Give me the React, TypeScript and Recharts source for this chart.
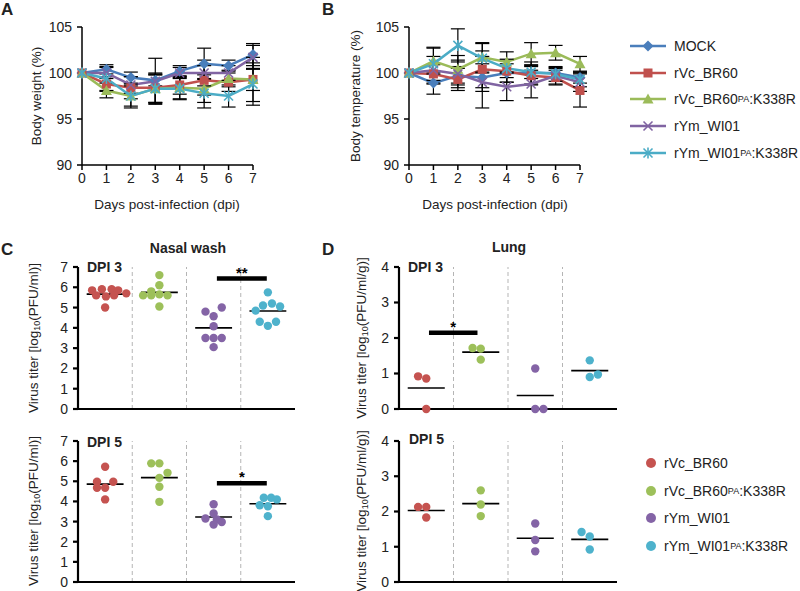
import React from "react";
import {
  LineChart,
  Line,
  XAxis,
  YAxis,
  ErrorBar,
  ScatterChart,
  Scatter,
  ReferenceLine,
} from "recharts";

const FONT = '"Liberation Sans", Arial, sans-serif';

const days = [0, 1, 2, 3, 4, 5, 6, 7];

// panel A: body weight (% of day 0), mean and SD
const weightMock = [100, 100.4, 99.5, 99.2, 100.2, 101, 100.8, 102];
const weightBR60 = [100, 98.8, 98.4, 98.4, 98.7, 99.2, 99, 99.3];
const weightBR60PA = [100, 98.1, 97.5, 98.3, 98.4, 98.3, 99.4, 99.3];
const weightWI01 = [100, 100, 98.7, 99.1, 100, 100, 100, 101.7];
const weightWI01PA = [100, 99.4, 97.5, 98.3, 98.3, 97.8, 97.5, 98.8];
const weightMockSd = [0, 0.5, 0.6, 0.6, 0.6, 1.7, 0.6, 1.2];
const weightBR60Sd = [0, 0.8, 1.2, 1.6, 1.0, 1.6, 1.0, 2.4];
const weightBR60PASd = [0, 0.8, 1.1, 1.5, 1.2, 1.5, 0.9, 1.2];
const weightWI01Sd = [0, 0.6, 0.9, 2.5, 0.6, 1.4, 0.8, 1.3];
const weightWI01PASd = [0, 1.3, 1.3, 1.6, 1.2, 1.6, 1.2, 2.3];

// panel B: body temperature (% of day 0), mean and SD
const tempMock = [100, 98.9, 99.7, 99.5, 100, 100, 100, 99.5];
const tempBR60 = [100, 99.9, 99.3, 100.4, 100.2, 99.7, 99.5, 98.1];
const tempBR60PA = [100, 101.3, 100.4, 101.7, 101.2, 102.1, 102.2, 101];
const tempWI01 = [100, 100.3, 99.9, 99, 98.5, 98.8, 99.7, 99];
const tempWI01PA = [100, 101, 103, 101.6, 100.5, 100.1, 99.9, 99.3];
const tempMockSd = [0, 1.2, 1.0, 1.5, 1.0, 1.2, 0.5, 0.6];
const tempBR60Sd = [0, 1.0, 1.2, 2.0, 1.2, 1.0, 0.8, 1.8];
const tempBR60PASd = [0, 1.4, 1.5, 1.6, 1.1, 1.2, 0.8, 0.8];
const tempWI01Sd = [0, 1.5, 1.5, 2.8, 1.5, 1.5, 0.9, 1.0];
const tempWI01PASd = [0, 1.8, 1.8, 1.6, 1.0, 0.7, 0.8, 0.8];

const lineNames = ["MOCK", "rVc_BR60", "rVc_BR60|PA|:K338R", "rYm_WI01", "rYm_WI01|PA|:K338R"];
const lineColors = ["#4A7EBB", "#C0504D", "#9BBB59", "#8064A2", "#4BACC6"];
const lineMarkers = ["diamond", "square", "triangle", "x", "star"];

const weightSeries = [weightMock, weightBR60, weightBR60PA, weightWI01, weightWI01PA];
const weightSds = [weightMockSd, weightBR60Sd, weightBR60PASd, weightWI01Sd, weightWI01PASd];
const tempSeries = [tempMock, tempBR60, tempBR60PA, tempWI01, tempWI01PA];
const tempSds = [tempMockSd, tempBR60Sd, tempBR60PASd, tempWI01Sd, tempWI01PASd];

// panels C and D: virus titers per animal; slot = horizontal jitter within its column
const groupNames = ["rVc_BR60", "rVc_BR60|PA|:K338R", "rYm_WI01", "rYm_WI01|PA|:K338R"];
const groupColors = ["#C55350", "#9DC05A", "#8464A6", "#4EB2CC"];

const nasal3 = [
  [5.85, 5.9, 5.9, 5.85, 5.6, 5.55, 5.6, 5.0, 5.7],
  [6.6, 6.1, 5.8, 5.6, 5.6, 5.65, 5.6, 5.05],
  [4.8, 5.0, 4.57, 4.08, 3.5, 3.5, 3.5, 3.05],
  [5.75, 5.1, 5.2, 5.05, 4.85, 4.3, 4.3, 4.1],
];
const nasal3Slots = [
  [-1.6, -0.4, 0.8, 1.6, -1.1, 0.1, 1.1, 0, 2.6],
  [0, 0, -1, -2, -1, 0, 1, 0],
  [-1, 1, 0, 0, -1, 0, 1, 0],
  [0, -0.6, 0.5, 1.5, -1.5, -1, 1, 0],
];
const nasal5 = [
  [5.72, 4.98, 4.98, 4.68, 4.68, 4.1],
  [5.89, 5.89, 5.42, 5.17, 4.73, 3.98],
  [3.86, 3.4, 3.15, 3.1, 2.98, 2.85],
  [4.18, 4.18, 4.1, 3.81, 3.76, 3.27],
];
const nasal5Slots = [
  [0, -1, 1, -1, 0, 0],
  [-1, 0, 1, 0, 0, 0],
  [0, 0, -1, 0.4, 1, 0],
  [-0.5, 0.4, 1.1, -1, 0, 0],
];
const lung3 = [
  [0.92, 0.86, 0],
  [1.72, 1.7, 1.39],
  [1.14, 0, 0],
  [1.37, 0.9, 0.97],
];
const lung3Slots = [
  [-1, 0, 0],
  [-1, 0, 0],
  [0, 0, 1],
  [0, 0, 1],
];
const lung5 = [
  [2.13, 2.13, 1.83],
  [2.6, 2.2, 1.87],
  [1.66, 1.19, 0.87],
  [1.42, 1.29, 0.92],
];
const lung5Slots = [
  [-1, 0, 0],
  [0, 0, 0],
  [0, 0, 0],
  [-1, 0, 0],
];

function Label({ text, small = 9 }: { text: string; small?: number }) {
  const parts = text.split("|");
  return (
    <>
      {parts.map((p, i) =>
        i % 2 === 1 ? (
          <span key={i} style={{ fontSize: small, verticalAlign: "-2px" }}>
            {p}
          </span>
        ) : (
          <span key={i}>{p}</span>
        )
      )}
    </>
  );
}

function Marker({ kind, cx, cy, color }: { kind: string; cx: number; cy: number; color: string }) {
  if (cx == null || cy == null) return null;
  if (kind === "diamond")
    return <polygon points={`${cx},${cy - 5.5} ${cx + 5.5},${cy} ${cx},${cy + 5.5} ${cx - 5.5},${cy}`} fill={color} />;
  if (kind === "square") return <rect x={cx - 4.5} y={cy - 4.5} width={9} height={9} fill={color} />;
  if (kind === "triangle")
    return <polygon points={`${cx},${cy - 5.5} ${cx + 5.5},${cy + 4.5} ${cx - 5.5},${cy + 4.5}`} fill={color} />;
  const x = (
    <>
      <line x1={cx - 4.5} y1={cy - 4.5} x2={cx + 4.5} y2={cy + 4.5} />
      <line x1={cx - 4.5} y1={cy + 4.5} x2={cx + 4.5} y2={cy - 4.5} />
    </>
  );
  return (
    <g stroke={color} strokeWidth={1.6}>
      {x}
      {kind === "star" && <line x1={cx} y1={cy - 5.5} x2={cx} y2={cy + 5.5} />}
    </g>
  );
}

function Rotated({ cx, cy, children }: { cx: number; cy: number; children: React.ReactNode }) {
  return (
    <div
      style={{
        position: "absolute",
        left: cx,
        top: cy,
        transform: "translate(-50%, -50%) rotate(-90deg)",
        whiteSpace: "nowrap",
        fontSize: 13.5,
      }}
    >
      {children}
    </div>
  );
}

function Text({ x, y, children, bold = false, size = 14, center = false }: any) {
  return (
    <div
      style={{
        position: "absolute",
        left: x,
        top: y,
        transform: center ? "translate(-50%, -50%)" : "translate(0, -50%)",
        whiteSpace: "nowrap",
        fontSize: size,
        fontWeight: bold ? 700 : 400,
        lineHeight: 1,
      }}
    >
      {children}
    </div>
  );
}

const axisStyle = { stroke: "#000", strokeWidth: 1.5 };
const tickStyle = { fontSize: 14, fill: "#222" };

function DailyChart({ left, series, sds }: { left: number; series: number[][]; sds: number[][] }) {
  const rows = days.map((d, i) => {
    const row: Record<string, number> = { day: d };
    series.forEach((s, k) => {
      row[`s${k}`] = s[i];
      row[`e${k}`] = sds[k][i];
    });
    return row;
  });
  return (
    <div style={{ position: "absolute", left, top: 0 }}>
      <LineChart width={270} height={190} data={rows} margin={{ top: 27, right: 17, left: 42, bottom: 0 }}>
        <XAxis
          dataKey="day"
          type="number"
          domain={[0, 7]}
          ticks={days}
          height={25}
          axisLine={axisStyle}
          tickLine={axisStyle}
          tickSize={5}
          tickMargin={3}
          tick={tickStyle}
        />
        <YAxis
          type="number"
          domain={[90, 105]}
          ticks={[90, 95, 100, 105]}
          width={40}
          axisLine={axisStyle}
          tickLine={axisStyle}
          tickSize={5}
          tickMargin={5}
          tick={tickStyle}
        />
        {series.map((_, k) => (
          <Line
            key={k}
            dataKey={`s${k}`}
            stroke={lineColors[k]}
            strokeWidth={2.5}
            isAnimationActive={false}
            dot={(p: any) => <Marker key={`m${k}-${p.index}`} kind={lineMarkers[k]} cx={p.cx} cy={p.cy} color={lineColors[k]} />}
          >
            <ErrorBar dataKey={`e${k}`} width={7} stroke="#000" strokeWidth={1.2} />
          </Line>
        ))}
      </LineChart>
    </div>
  );
}

function TiterChart({
  left,
  top,
  height,
  marginLeft,
  marginRight,
  yMax,
  values,
  slots,
  sig,
}: {
  left: number;
  top: number;
  height: number;
  marginLeft: number;
  marginRight: number;
  yMax: number;
  values: number[][];
  slots: number[][];
  sig?: { from: number; to: number; y: number; stars: string };
}) {
  const ticks = Array.from({ length: yMax + 1 }, (_, i) => i);
  const thick = { stroke: "#000", strokeWidth: 2.2 };
  return (
    <div style={{ position: "absolute", left, top }}>
      <ScatterChart width={310} height={height + 9} margin={{ top: 27, right: marginRight, left: marginLeft, bottom: 10 }}>
        <XAxis dataKey="x" type="number" domain={[0, 4]} tick={false} tickLine={false} height={2} axisLine={thick} />
        <YAxis
          dataKey="y"
          type="number"
          domain={[0, yMax]}
          ticks={ticks}
          interval={0}
          width={40}
          axisLine={thick}
          tickLine={thick}
          tickSize={5}
          tickMargin={5}
          tick={tickStyle}
        />
        {[1, 2, 3].map((g) => (
          <ReferenceLine key={g} x={g} stroke="#b5b5b5" strokeDasharray="4 3" strokeWidth={1} />
        ))}
        {values.map((vals, g) => {
          const mean = vals.reduce((a, b) => a + b, 0) / vals.length;
          return (
            <ReferenceLine
              key={`mean${g}`}
              segment={[
                { x: g + 0.16, y: mean },
                { x: g + 0.84, y: mean },
              ]}
              stroke="#000"
              strokeWidth={1.6}
            />
          );
        })}
        {sig && (
          <ReferenceLine
            segment={[
              { x: sig.from, y: sig.y },
              { x: sig.to, y: sig.y },
            ]}
            stroke="#000"
            strokeWidth={4.5}
            label={{ value: sig.stars, position: "top", fontSize: 15, fontWeight: 700, fill: "#000", offset: 1 }}
          />
        )}
        {values.map((vals, g) => (
          <Scatter
            key={`g${g}`}
            data={vals.map((v, i) => ({ x: g + 0.5 + slots[g][i] * 0.15, y: v }))}
            isAnimationActive={false}
            shape={(p: any) => <circle cx={p.cx} cy={p.cy} r={4.2} fill={groupColors[g]} />}
          />
        ))}
      </ScatterChart>
    </div>
  );
}

export default function App() {
  return (
    <div
      style={{
        position: "absolute",
        left: 0,
        top: 0,
        width: 800,
        height: 591,
        background: "#fff",
        fontFamily: FONT,
        color: "#222",
        overflow: "hidden",
      }}
    >
      <Text x={1} y={9} bold size={17}>A</Text>
      <Text x={322} y={9} bold size={17}>B</Text>
      <Text x={1} y={249} bold size={17}>C</Text>
      <Text x={322} y={249} bold size={17}>D</Text>

      <DailyChart left={0} series={weightSeries} sds={weightSds} />
      <DailyChart left={327} series={tempSeries} sds={tempSds} />
      <Rotated cx={36} cy={96}>Body weight (%)</Rotated>
      <Rotated cx={355} cy={96}>Body temperature (%)</Rotated>
      <Text x={167} y={205} center size={13.5}>Days post-infection (dpi)</Text>
      <Text x={495} y={205} center size={13.5}>Days post-infection (dpi)</Text>

      {lineNames.map((n, k) => (
        <div key={n} style={{ position: "absolute", left: 628, top: 46 + k * 26.7, transform: "translateY(-50%)", display: "flex", alignItems: "center", fontSize: 14, whiteSpace: "nowrap" }}>
          <svg width={40} height={14} style={{ marginRight: 6 }}>
            <line x1={2} y1={7} x2={38} y2={7} stroke={lineColors[k]} strokeWidth={2.5} />
            <Marker kind={lineMarkers[k]} cx={20} cy={7} color={lineColors[k]} />
          </svg>
          <Label text={n} />
        </div>
      ))}

      <Text x={188} y={248} center bold size={14}>Nasal wash</Text>
      <Text x={509} y={247} center bold size={14}>Lung</Text>

      <TiterChart left={0} top={240} height={172} marginLeft={38} marginRight={15} yMax={7} values={nasal3} slots={nasal3Slots}
        sig={{ from: 2.56, to: 3.48, y: 6.43, stars: "**" }} />
      <TiterChart left={0} top={414} height={171} marginLeft={38} marginRight={15} yMax={7} values={nasal5} slots={nasal5Slots}
        sig={{ from: 2.56, to: 3.48, y: 4.9, stars: "*" }} />
      <TiterChart left={319} top={240} height={172} marginLeft={40} marginRight={12} yMax={4} values={lung3} slots={lung3Slots}
        sig={{ from: 0.55, to: 1.44, y: 2.15, stars: "*" }} />
      <TiterChart left={319} top={414} height={171} marginLeft={40} marginRight={12} yMax={4} values={lung5} slots={lung5Slots} />

      <Text x={87} y={267} bold size={14}>DPI 3</Text>
      <Text x={87} y={442} bold size={14}>DPI 5</Text>
      <Text x={408} y={267} bold size={14}>DPI 3</Text>
      <Text x={409} y={439} bold size={14}>DPI 5</Text>

      <Rotated cx={34} cy={338}>
        Virus titer [log<Label text="|10|" small={9} />(PFU/ml)]
      </Rotated>
      <Rotated cx={34} cy={511}>
        Virus titer [log<Label text="|10|" small={9} />(PFU/ml)]
      </Rotated>
      <Rotated cx={362} cy={338}>
        Virus titer [log<Label text="|10|" small={9} />(PFU/ml/g)]
      </Rotated>
      <Rotated cx={362} cy={511}>
        Virus titer [log<Label text="|10|" small={9} />(PFU/ml/g)]
      </Rotated>

      {groupNames.map((n, g) => (
        <div key={n} style={{ position: "absolute", left: 645, top: 463 + g * 27.5, transform: "translateY(-50%)", display: "flex", alignItems: "center", fontSize: 14, whiteSpace: "nowrap" }}>
          <svg width={12} height={12} style={{ marginRight: 7 }}>
            <circle cx={6} cy={6} r={5} fill={groupColors[g]} />
          </svg>
          <Label text={n} />
        </div>
      ))}
    </div>
  );
}
